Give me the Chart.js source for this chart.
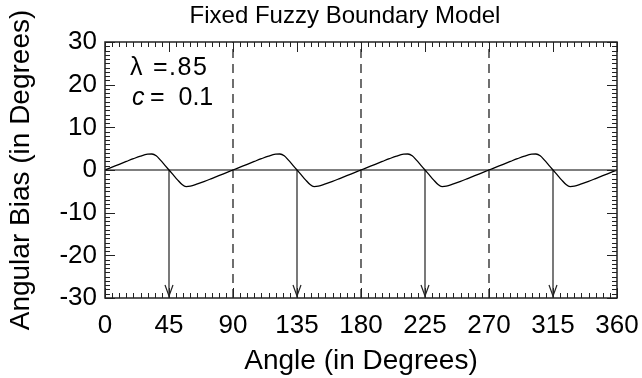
<!DOCTYPE html>
<html>
<head>
<meta charset="utf-8">
<title>Fixed Fuzzy Boundary Model</title>
<script src="https://cdn.jsdelivr.net/npm/chart.js@4.4.1/dist/chart.umd.min.js"></script>
<style>
  html, body { margin: 0; padding: 0; background: #fff; }
  #wrap { width: 642px; height: 378px; }
</style>
</head>
<body>
<div id="wrap"><canvas id="biasChart"></canvas></div>
<script>
// values
const angles = [
  0, 5, 10, 15, 20, 25, 30, 33, 36, 39, 42, 45, 48, 51, 54, 57, 60, 65, 70, 75, 80, 85,
  90, 95, 100, 105, 110, 115, 120, 123, 126, 129, 132, 135, 138, 141, 144, 147, 150, 155, 160, 165, 170, 175,
  180, 185, 190, 195, 200, 205, 210, 213, 216, 219, 222, 225, 228, 231, 234, 237, 240, 245, 250, 255, 260, 265,
  270, 275, 280, 285, 290, 295, 300, 303, 306, 309, 312, 315, 318, 321, 324, 327, 330, 335, 340, 345, 350, 355,
  360
];
const bias = [
  0, 0.67, 1.34, 2.0, 2.65, 3.25, 3.7, 3.75, 3.35, 2.3, 1.15, 0, -1.15, -2.3, -3.35, -3.9, -3.8, -3.25, -2.65, -2.0, -1.34, -0.67,
  0, 0.67, 1.34, 2.0, 2.65, 3.25, 3.7, 3.75, 3.35, 2.3, 1.15, 0, -1.15, -2.3, -3.35, -3.9, -3.8, -3.25, -2.65, -2.0, -1.34, -0.67,
  0, 0.67, 1.34, 2.0, 2.65, 3.25, 3.7, 3.75, 3.35, 2.3, 1.15, 0, -1.15, -2.3, -3.35, -3.9, -3.8, -3.25, -2.65, -2.0, -1.34, -0.67,
  0, 0.67, 1.34, 2.0, 2.65, 3.25, 3.7, 3.75, 3.35, 2.3, 1.15, 0, -1.15, -2.3, -3.35, -3.9, -3.8, -3.25, -2.65, -2.0, -1.34, -0.67,
  0
];
const dashedAt = [90, 180, 270];
const arrowAt = [45, 135, 225, 315];
const xTicks = [0, 45, 90, 135, 180, 225, 270, 315, 360];
const yTicks = [-30, -20, -10, 0, 10, 20, 30];
const noteNames = ["\u03bb", "c"];
const noteValues = ["=.85", "=  0.1"];

const FONT = "'Liberation Sans', Arial, Helvetica, sans-serif";
const xMin = xTicks[0], xMax = xTicks[xTicks.length - 1];
const yMin = yTicks[0], yMax = yTicks[yTicks.length - 1];

const curve = angles.map((a, i) => ({ x: a, y: bias[i] }));

const datasets = [
  {
    data: curve,
    borderColor: "#000",
    borderWidth: 1.3,
    pointRadius: 0,
    cubicInterpolationMode: "monotone",
  },
  {
    data: [{ x: xMin, y: 0 }, { x: xMax, y: 0 }],
    borderColor: "#555",
    borderWidth: 1.5,
    pointRadius: 0,
  },
];
dashedAt.forEach((v) => {
  datasets.push({
    data: [{ x: v, y: yMin }, { x: v, y: yMax }],
    borderColor: "#222",
    borderWidth: 1.3,
    borderDash: [9, 6],
    pointRadius: 0,
  });
});
arrowAt.forEach((v) => {
  datasets.push({
    data: [{ x: v, y: 0 }, { x: v, y: yMin }],
    borderColor: "#333",
    borderWidth: 1.3,
    pointRadius: 0,
  });
});

// box, inward ticks, arrowheads, title and the parameter notes
const framePlugin = {
  id: "frame",
  afterDatasetsDraw(chart) {
    const { ctx, chartArea: a, scales: { x, y } } = chart;
    ctx.save();
    ctx.strokeStyle = "#222";
    ctx.lineWidth = 1;
    ctx.beginPath();
    for (let v = xMin; v <= xMax; v += 5) {
      const px = Math.round(x.getPixelForValue(v)) + 0.5;
      const len = v % 45 === 0 ? 10 : 5;
      ctx.moveTo(px, a.bottom); ctx.lineTo(px, a.bottom - len);
      ctx.moveTo(px, a.top); ctx.lineTo(px, a.top + len);
    }
    for (let v = yMin; v <= yMax; v += 1) {
      const py = Math.round(y.getPixelForValue(v)) + 0.5;
      const len = v % 10 === 0 ? 10 : 5;
      ctx.moveTo(a.left, py); ctx.lineTo(a.left + len, py);
      ctx.moveTo(a.right, py); ctx.lineTo(a.right - len, py);
    }
    ctx.stroke();

    ctx.lineWidth = 1.5;
    ctx.strokeRect(a.left, a.top, a.right - a.left, a.bottom - a.top);

    // open arrowheads at the bottom of each shaft
    ctx.strokeStyle = "#222";
    ctx.lineWidth = 1.2;
    ctx.beginPath();
    arrowAt.forEach((v) => {
      const px = x.getPixelForValue(v);
      const tip = y.getPixelForValue(yMin) - 2;
      ctx.moveTo(px - 4, tip - 11);
      ctx.lineTo(px, tip);
      ctx.lineTo(px + 4, tip - 11);
    });
    ctx.stroke();

    ctx.fillStyle = "#000";
    ctx.textBaseline = "alphabetic";
    ctx.textAlign = "center";
    ctx.font = "24px " + FONT;
    ctx.fillText("Fixed Fuzzy Boundary Model", 345, 23);

    ctx.textAlign = "left";
    ctx.font = "25px " + FONT;
    ctx.fillText(noteNames[0], a.left + 25, a.top + 33);
    ctx.letterSpacing = "1.5px";
    ctx.fillText(noteValues[0], a.left + 48, a.top + 33);
    ctx.letterSpacing = "0px";
    ctx.font = "italic 25px " + FONT;
    ctx.fillText(noteNames[1], a.left + 27, a.top + 63);
    ctx.font = "25px " + FONT;
    ctx.fillText(noteValues[1], a.left + 45, a.top + 63);
    ctx.restore();
  },
};

const tickFont = { family: FONT, size: 26 };
const titleFont = { family: FONT, size: 28 };

new Chart(document.getElementById("biasChart"), {
  type: "line",
  data: { datasets: datasets },
  options: {
    responsive: true,
    maintainAspectRatio: false,
    animation: false,
    layout: { padding: { top: 42, right: 25, left: 0, bottom: 0 } },
    plugins: {
      legend: { display: false },
      tooltip: { enabled: false },
    },
    scales: {
      x: {
        type: "linear",
        min: xMin,
        max: xMax,
        afterBuildTicks: (s) => { s.ticks = xTicks.map((v) => ({ value: v })); },
        afterFit: (s) => { s.height = 80; },
        // tick marks are drawn inward by the plugin; tickLength only pushes the labels down
        grid: { display: false, drawTicks: true, tickLength: 12 },
        border: { display: false },
        ticks: { font: tickFont, color: "#000", padding: 0, maxRotation: 0, autoSkip: false },
        title: { display: true, text: "Angle (in Degrees)", font: titleFont, color: "#000", padding: { top: 0, bottom: 0 } },
      },
      y: {
        type: "linear",
        min: yMin,
        max: yMax,
        afterBuildTicks: (s) => { s.ticks = yTicks.map((v) => ({ value: v })); },
        afterFit: (s) => { s.width = 105; },
        grid: { display: false, drawTicks: false },
        border: { display: false },
        ticks: { font: tickFont, color: "#000", padding: 8, autoSkip: false },
        title: { display: true, text: "Angular Bias (in Degrees)", font: titleFont, color: "#000", padding: { top: 4, bottom: 0 } },
      },
    },
  },
  plugins: [framePlugin],
});
</script>
</body>
</html>
